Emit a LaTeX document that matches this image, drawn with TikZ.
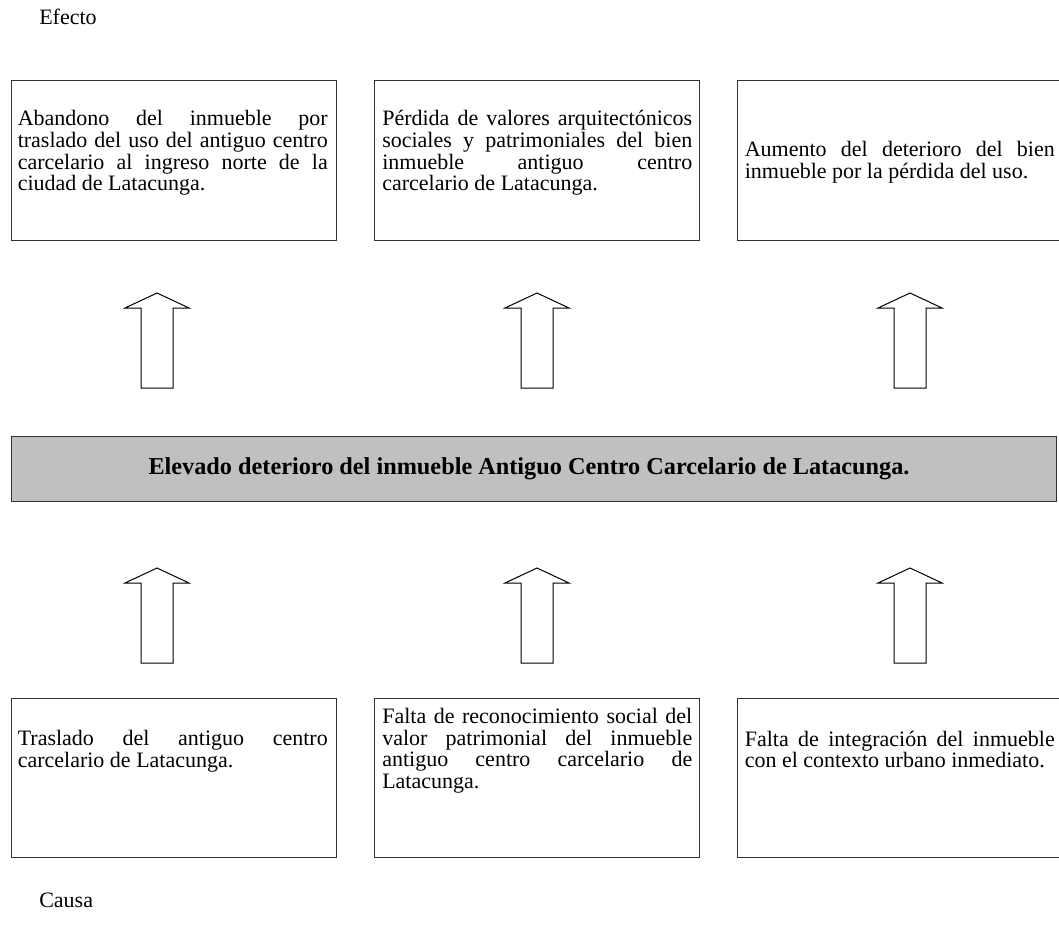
\documentclass[tikz,border=0pt]{standalone}
\usepackage{fontspec}
\setmainfont{Liberation Serif}
\newlength{\linew}
\setlength{\linew}{232.5pt}
\newcommand{\jl}[1]{{\spaceskip=0pt\xspaceskip=0pt\makebox[\linew][s]{#1}}}
\begin{document}
\begin{tikzpicture}[x=0.75pt,y=-0.75pt,
  txt/.style={font=\fontsize{16.5pt}{16.3pt}\selectfont},
  box/.style={draw=black!80, line width=0.75pt, minimum width=243.75pt,
    minimum height=119.25pt, inner sep=0pt},
  btext/.style={txt, text width=232.5pt, inner sep=0pt, align=flush left, anchor=west},
  central/.style={draw=black!80, line width=0.75pt, fill={rgb,255:red,192;green,192;blue,192},
    minimum width=783.75pt, minimum height=48.75pt, inner sep=0pt,
    font=\fontsize{18.2pt}{18pt}\selectfont\bfseries},
  arrowline/.style={draw=black, line width=0.75pt, fill=white},
  bigarrow/.pic={\path[arrowline] (0,0) -- (32,15) -- (16,15) -- (16,95) -- (-16,95) -- (-16,15) -- (-32,15) -- cycle;}
]
\useasboundingbox (0,0) rectangle (1059,931);
\clip (0,0) rectangle (1059,931);

\node[txt, anchor=base west, inner sep=0pt] (efecto) at (39,25) {Efecto};

\node[box] (e1) at (173.5,160.5) {};
\node[box] (e2) at (537,160.5) {};
\node[box] (e3) at (899.5,160.5) {};
\node[btext] (e1t) at ([xshift=5.25pt,yshift=5.6pt]e1.west) {\jl{Abandono del inmueble por}\\\jl{traslado del uso del antiguo centro}\\\jl{carcelario al ingreso norte de la}\\ciudad de Latacunga.};
\node[btext] (e2t) at ([xshift=6pt,yshift=5.6pt]e2.west) {\jl{Pérdida de valores arquitectónicos}\\\jl{sociales y patrimoniales del bien}\\\jl{inmueble antiguo centro}\\carcelario de Latacunga.};
\node[btext] (e3t) at ([xshift=6pt,yshift=-1.5pt]e3.west) {\jl{Aumento del deterioro del bien}\\inmueble por la pérdida del uso.};

\pic at (157,293) {bigarrow};
\pic at (537,293) {bigarrow};
\pic at (910,293) {bigarrow};

\node[central] (prob) at (533.5,468.5) {Elevado deterioro del inmueble Antiguo Centro Carcelario de Latacunga.\kern6.75pt};

\pic at (157,568) {bigarrow};
\pic at (537,568) {bigarrow};
\pic at (910,568) {bigarrow};

\node[box] (c1) at (173.5,777.5) {};
\node[box] (c2) at (537,777.5) {};
\node[box] (c3) at (899.5,777.5) {};
\node[btext] (c1t) at ([xshift=5.25pt,yshift=19.5pt]c1.west) {\jl{Traslado del antiguo centro}\\carcelario de Latacunga.};
\node[btext] (c2t) at ([xshift=6pt,yshift=20pt]c2.west) {\jl{Falta de reconocimiento social del}\\\jl{valor patrimonial del inmueble}\\\jl{antiguo centro carcelario de}\\Latacunga.};
\node[btext] (c3t) at ([xshift=6pt,yshift=21pt]c3.west) {\jl{Falta de integración del inmueble}\\con el contexto urbano inmediato.};

\node[txt, anchor=base west, inner sep=0pt] (causa) at (39,907) {Causa};
\end{tikzpicture}
\end{document}
